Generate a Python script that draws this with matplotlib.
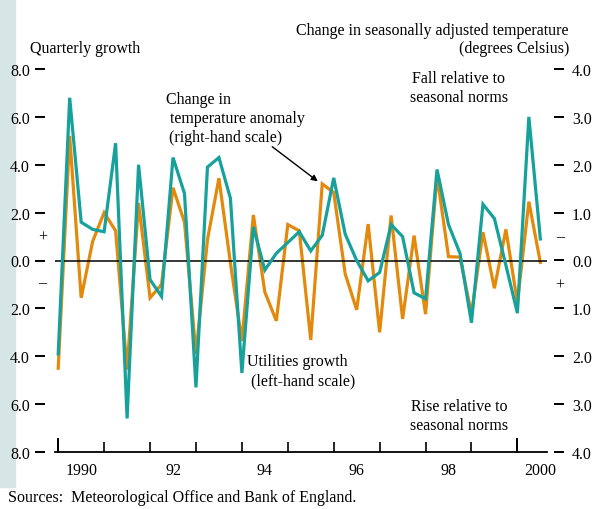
import matplotlib
matplotlib.use("Agg")
import matplotlib.pyplot as plt
from matplotlib.patches import Rectangle, FancyArrowPatch
from matplotlib.ticker import FixedLocator, FuncFormatter

plt.rcParams['font.family'] = ['Liberation Serif', 'DejaVu Serif']

# ---- data ----
start_year = 1990
utilities_growth = [-3.9, 6.8, 1.6, 1.3, 1.2, 4.9, -6.6, 4.0, -0.8, -1.5,
                    4.3, 2.8, -5.3, 3.9, 4.3, 2.6, -4.7, 1.4, -0.4, 0.3,
                    0.75, 1.2, 0.4, 1.05, 3.45, 1.1, 0.0, -0.85, -0.5, 1.5,
                    1.0, -1.35, -1.6, 3.8, 1.5, 0.3, -2.6, 2.35, 1.75, -0.2,
                    -2.2, 6.0, 0.9]
# change in temperature anomaly (deg C); negative = fall (plotted upward)
temp_change = [2.25, -2.6, 0.78, -0.4, -1.0, -0.62, 2.28, -1.2, 0.78, 0.5,
               -1.52, -0.8, 1.95, -0.43, -1.72, 0.05, 1.68, -0.95, 0.66, 1.26,
               -0.75, -0.62, 1.66, -1.6, -1.42, 0.28, 1.03, -0.76, 1.5, -0.94,
               1.22, -0.52, 1.12, -1.77, -0.08, -0.07, 1.12, -0.59, 0.58, -0.65,
               0.88, -1.23, 0.04]
left_ticks = [8, 6, 4, 2, 0, -2, -4, -6, -8]
right_ticks = [-4, -3, -2, -1, 0, 1, 2, 3, 4]
year_ticks = list(range(1990, 2001))
year_labels = ['1990', '92', '94', '96', '98', '2000']
year_label_pos = [1990.5, 1992.5, 1994.5, 1996.5, 1998.5, 2000.5]

t = [start_year + 0.25 * i for i in range(len(utilities_growth))]

TEAL = '#16a19c'
ORANGE = '#e3890c'
W, H = 600, 510
fig = plt.figure(figsize=(6.0, 5.1), dpi=100)

def fx(px):
    return px / W

def fy(py):
    return 1 - py / H

PT = 0.72  # points per pixel at 100 dpi

# left band
fig.patches.append(Rectangle((0, fy(488)), fx(15), 1 - fy(488), transform=fig.transFigure,
                             color='#d6e6e6', zorder=0))

ax = fig.add_axes([fx(55), fy(453), fx(547) - fx(55), fy(70) - fy(453)])
ax2 = ax.twinx()
ax.set_zorder(2)
ax.patch.set_visible(False)

ax.set_xlim(1989.93, 2000.645)
ax.set_ylim(-8, 8)
ax2.set_ylim(4, -4)

ax2.plot(t, temp_change, color=ORANGE, lw=2.3, solid_joinstyle='miter', zorder=3)
ax.plot(t, utilities_growth, color=TEAL, lw=2.3, solid_joinstyle='miter', zorder=2)
ax.axhline(0, color='black', lw=1.1, zorder=1)

for a in (ax, ax2):
    for s in ('top', 'right', 'left', 'bottom'):
        a.spines[s].set_visible(False)
ax.spines['bottom'].set_visible(True)
ax.spines['bottom'].set_linewidth(1.3)

FS = 11.5
fmt = FuncFormatter(lambda v, p: f"{abs(v):.1f}")
ax.yaxis.set_major_locator(FixedLocator(left_ticks))
ax.yaxis.set_major_formatter(fmt)
ax.spines['left'].set_position(('outward', 10 * PT))
ax.tick_params(axis='y', direction='out', length=10 * PT, width=1.4, pad=5 * PT, labelsize=FS)

ax2.yaxis.set_major_locator(FixedLocator(right_ticks))
ax2.yaxis.set_major_formatter(fmt)
ax2.spines['right'].set_position(('outward', 7 * PT))
ax2.tick_params(axis='y', direction='out', length=10 * PT, width=1.4, pad=8 * PT, labelsize=FS)

ax.xaxis.set_major_locator(FixedLocator(year_ticks))
ax.xaxis.set_major_formatter(FuncFormatter(lambda v, p: ''))
ax.tick_params(axis='x', which='major', direction='in', length=7, width=1.2)
ax.xaxis.set_minor_locator(FixedLocator(year_label_pos))
ax.xaxis.set_minor_formatter(FuncFormatter(
    lambda v, p: year_labels[year_label_pos.index(v)] if v in year_label_pos else ''))
ax.tick_params(axis='x', which='minor', length=0, pad=7, labelsize=FS)
# taller ticks at decade ends
for yr in (1990, 2000):
    ax.plot([yr, yr], [-8, -7.45], color='black', lw=1.4, clip_on=False, zorder=4)

# +/- signs
ax.text(-0.026, 1.0, '+', transform=ax.get_yaxis_transform(), ha='center', va='center', fontsize=FS)
ax.text(-0.026, -0.9, '\u2013', transform=ax.get_yaxis_transform(), ha='center', va='center', fontsize=FS)
ax2.text(1.026, -0.5, '\u2013', transform=ax2.get_yaxis_transform(), ha='center', va='center', fontsize=FS)
ax2.text(1.026, 0.5, '+', transform=ax2.get_yaxis_transform(), ha='center', va='center', fontsize=FS)

fig.text(fx(30), fy(49), 'Quarterly growth', ha='left', va='center', fontsize=FS)
fig.text(fx(569), fy(31), 'Change in seasonally adjusted temperature', ha='right', va='center', fontsize=FS)
fig.text(fx(569), fy(49), '(degrees Celsius)', ha='right', va='center', fontsize=FS)
fig.text(fx(459), fy(88.5), 'Fall relative to\nseasonal norms', ha='center', va='center', fontsize=FS, linespacing=1.3)
fig.text(fx(459), fy(416.5), 'Rise relative to\nseasonal norms', ha='center', va='center', fontsize=FS, linespacing=1.3)
fig.text(fx(166), fy(100), 'Change in', ha='left', va='center', fontsize=FS)
fig.text(fx(170), fy(119), 'temperature anomaly', ha='left', va='center', fontsize=FS)
fig.text(fx(169), fy(138), '(right-hand scale)', ha='left', va='center', fontsize=FS)
fig.text(fx(247), fy(362), 'Utilities growth', ha='left', va='center', fontsize=FS)
fig.text(fx(251), fy(381), '(left-hand scale)', ha='left', va='center', fontsize=FS)
fig.text(fx(8), fy(498), 'Sources:  Meteorological Office and Bank of England.', ha='left', va='center', fontsize=FS)

fig.add_artist(FancyArrowPatch(
    (fx(270), fy(146)), (fx(320), fy(184)), transform=fig.transFigure,
    arrowstyle='-|>', mutation_scale=9, lw=1.0, color='black'))

fig.savefig('out.png', dpi=100)
